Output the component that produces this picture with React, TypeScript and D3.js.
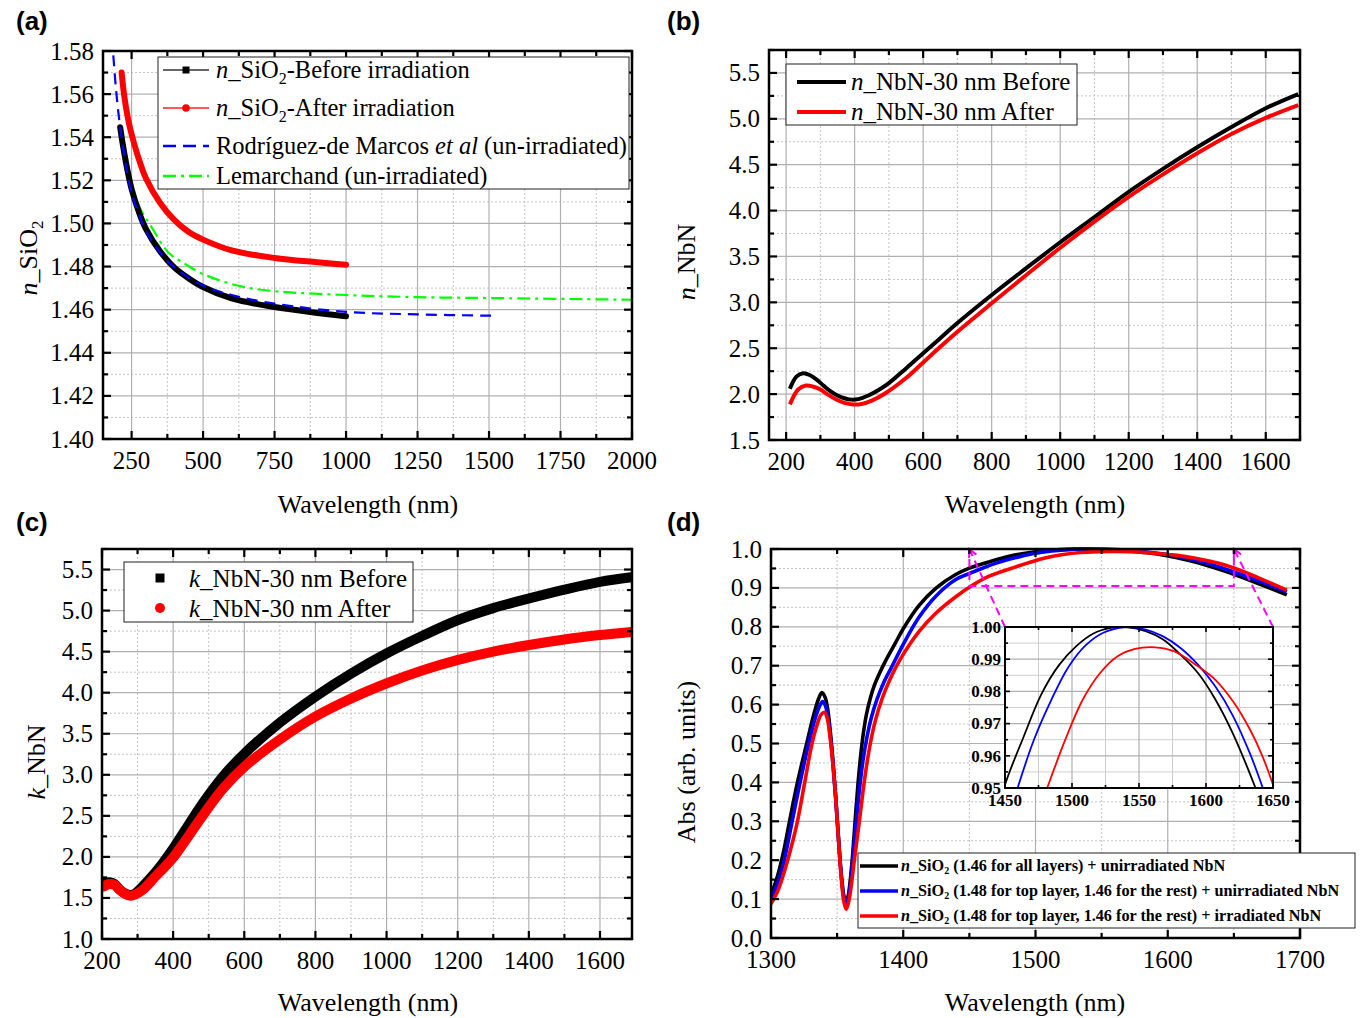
import React from 'react';
import * as d3 from 'd3';

// ---------------- DATA ----------------
// Panel (a): refractive index of SiO2
const aBeforeWl = [210, 220, 235, 250, 275, 300, 350, 400, 450, 500, 600, 750, 900, 1000];
const aBeforeN = [1.5446, 1.536, 1.525, 1.516, 1.5055, 1.4975, 1.487, 1.4795, 1.4745, 1.4705, 1.4652, 1.4612, 1.4585, 1.4569];
const aAfterWl = [215, 225, 240, 260, 280, 300, 350, 400, 450, 500, 600, 750, 900, 1000];
const aAfterN = [1.57, 1.5585, 1.547, 1.5365, 1.528, 1.521, 1.5095, 1.5015, 1.496, 1.4925, 1.4875, 1.484, 1.482, 1.4808];
const aRodWl = [186, 195, 205, 215, 230, 250, 275, 300, 350, 400, 500, 600, 750, 1000, 1250, 1510];
const aRodN = [1.578, 1.563, 1.55, 1.54, 1.527, 1.514, 1.5045, 1.4965, 1.4865, 1.4795, 1.4712, 1.4668, 1.4628, 1.459, 1.4578, 1.4572];
const aLemWl = [245, 252, 280, 319, 379, 440, 500, 620, 740, 1000, 1250, 1500, 2000];
const aLemN = [1.521, 1.517, 1.507, 1.4985, 1.4865, 1.481, 1.4765, 1.4712, 1.4687, 1.4668, 1.4658, 1.4654, 1.4646];

// Panel (b): n of NbN
const bBeforeWl = [211, 230, 250, 270, 290, 310, 330, 350, 370, 390, 410, 440, 470, 500, 550, 600, 650, 700, 800, 900, 1000, 1100, 1200, 1300, 1400, 1500, 1600, 1695];
const bBeforeN = [2.058, 2.19, 2.228, 2.205, 2.155, 2.09, 2.03, 1.985, 1.955, 1.94, 1.945, 1.985, 2.045, 2.12, 2.28, 2.445, 2.61, 2.775, 3.08, 3.37, 3.655, 3.93, 4.205, 4.455, 4.69, 4.91, 5.115, 5.27];
const bAfterWl = [211, 235, 258, 280, 300, 320, 345, 370, 395, 420, 450, 490, 550, 600, 650, 700, 800, 900, 1000, 1100, 1200, 1300, 1400, 1500, 1600, 1695];
const bAfterN = [1.888, 2.05, 2.094, 2.08, 2.05, 2.0, 1.945, 1.905, 1.888, 1.893, 1.93, 2.01, 2.175, 2.345, 2.515, 2.68, 2.99, 3.295, 3.595, 3.88, 4.15, 4.395, 4.625, 4.835, 5.01, 5.15];

// Panel (c): k of NbN
const cBeforeWl = [205, 220, 235, 250, 265, 278, 292, 310, 340, 370, 400, 430, 460, 486, 540, 602, 699, 800, 902, 1001, 1100, 1201, 1300, 1401, 1500, 1600, 1688];
const cBeforeK = [1.68, 1.69, 1.67, 1.6, 1.555, 1.535, 1.55, 1.62, 1.76, 1.92, 2.1, 2.3, 2.5, 2.67, 2.98, 3.265, 3.632, 3.953, 4.237, 4.48, 4.69, 4.885, 5.03, 5.148, 5.255, 5.35, 5.405];
const cAfterWl = [205, 220, 235, 250, 265, 280, 295, 315, 350, 375, 400, 430, 460, 486, 540, 602, 699, 800, 902, 1001, 1100, 1201, 1300, 1401, 1500, 1600, 1688];
const cAfterK = [1.64, 1.67, 1.66, 1.6, 1.55, 1.527, 1.545, 1.6, 1.76, 1.87, 1.99, 2.17, 2.36, 2.52, 2.83, 3.103, 3.427, 3.71, 3.933, 4.115, 4.27, 4.399, 4.5, 4.581, 4.648, 4.702, 4.74];

// Panel (d): absorbance
const dBlackWl = [1300, 1305, 1310, 1314, 1320, 1327, 1332, 1336, 1338.5, 1341, 1343, 1345, 1347, 1349, 1351, 1353, 1355, 1356.7, 1358.5, 1360, 1362, 1364, 1366, 1368, 1370, 1372, 1375, 1378, 1382, 1387, 1394, 1400, 1412, 1425, 1440, 1450, 1464, 1477, 1490, 1503, 1516, 1529, 1540, 1555, 1568, 1581, 1594, 1607, 1620, 1636, 1650, 1670, 1690];
const dBlackA = [0.11, 0.16, 0.23, 0.3, 0.4, 0.5, 0.57, 0.615, 0.631, 0.618, 0.585, 0.525, 0.45, 0.36, 0.26, 0.17, 0.11, 0.088, 0.11, 0.15, 0.225, 0.32, 0.405, 0.475, 0.53, 0.572, 0.615, 0.648, 0.68, 0.715, 0.758, 0.795, 0.855, 0.9, 0.935, 0.951, 0.966, 0.979, 0.988, 0.994, 0.998, 0.9997, 1.0, 0.9987, 0.9961, 0.9914, 0.9857, 0.9775, 0.967, 0.951, 0.935, 0.909, 0.882];
const dBlueWl = [1300, 1305, 1310, 1316, 1322, 1328.5, 1333, 1337, 1339, 1341, 1343, 1345, 1347, 1349, 1351, 1353, 1355, 1356.8, 1358.5, 1360, 1362, 1364.5, 1367, 1369.5, 1372.5, 1376, 1380, 1385, 1391, 1400, 1412, 1425, 1440, 1450, 1459.4, 1471.6, 1484.6, 1497.7, 1510.7, 1523.7, 1539.3, 1555, 1568, 1581, 1594, 1607, 1620, 1633, 1642.4, 1660, 1690];
const dBlueA = [0.1, 0.14, 0.2, 0.3, 0.4, 0.5, 0.56, 0.598, 0.608, 0.598, 0.57, 0.515, 0.44, 0.355, 0.255, 0.165, 0.105, 0.083, 0.105, 0.14, 0.21, 0.3, 0.385, 0.455, 0.515, 0.568, 0.612, 0.655, 0.695, 0.755, 0.825, 0.88, 0.922, 0.937, 0.95, 0.965, 0.9774, 0.9878, 0.9945, 0.9983, 0.9999, 0.9992, 0.9971, 0.9935, 0.9883, 0.9815, 0.9725, 0.9605, 0.95, 0.929, 0.89];
const dRedWl = [1300, 1305, 1310, 1315, 1320, 1325.5, 1331, 1335, 1338, 1340.5, 1342.5, 1344.5, 1347, 1349, 1351, 1353, 1355, 1356.8, 1358.5, 1360.5, 1363, 1366.8, 1369.5, 1372, 1375, 1379, 1384, 1390, 1397.5, 1412, 1425, 1440, 1452, 1465, 1481.5, 1495, 1508, 1521, 1534, 1547, 1562, 1576, 1594, 1607, 1620, 1633, 1642, 1650, 1670, 1690];
const dRedA = [0.088, 0.12, 0.17, 0.23, 0.3, 0.4, 0.5, 0.55, 0.575, 0.58, 0.565, 0.52, 0.44, 0.355, 0.255, 0.16, 0.095, 0.074, 0.09, 0.13, 0.2, 0.3, 0.375, 0.437, 0.498, 0.56, 0.615, 0.665, 0.715, 0.788, 0.836, 0.878, 0.906, 0.93, 0.95, 0.965, 0.9774, 0.9857, 0.9909, 0.9932, 0.9937, 0.9925, 0.9878, 0.9836, 0.977, 0.968, 0.96, 0.951, 0.924, 0.894];

// Tick labels
const aXTicks = [250, 500, 750, 1000, 1250, 1500, 1750, 2000];
const aYTicks = [1.4, 1.42, 1.44, 1.46, 1.48, 1.5, 1.52, 1.54, 1.56, 1.58];
const bXTicks = [200, 400, 600, 800, 1000, 1200, 1400, 1600];
const bYTicks = [1.5, 2.0, 2.5, 3.0, 3.5, 4.0, 4.5, 5.0, 5.5];
const cXTicks = [200, 400, 600, 800, 1000, 1200, 1400, 1600];
const cYTicks = [1.0, 1.5, 2.0, 2.5, 3.0, 3.5, 4.0, 4.5, 5.0, 5.5];
const dXTicks = [1300, 1400, 1500, 1600, 1700];
const dYTicks = [0, 0.1, 0.2, 0.3, 0.4, 0.5, 0.6, 0.7, 0.8, 0.9, 1.0];
const iXTicks = [1450, 1500, 1550, 1600, 1650];
const iYTicks = [0.95, 0.96, 0.97, 0.98, 0.99, 1.0];

// ---------------- HELPERS ----------------
const SERIF = '"Liberation Serif", "Times New Roman", serif';
const SANS = '"Liberation Sans", Arial, sans-serif';
const zip = (a: number[], b: number[]) => a.map((v, i) => [v, b[i]] as [number, number]);
const mids = (t: number[]) => t.slice(0, -1).map((v, i) => (v + t[i + 1]) / 2);
const eps = 1e-9;

type S = d3.ScaleLinear<number, number>;

function Grid({ xs, ys, xt, yt, xm, ym, solidMinor = false }: any) {
  const [x0, x1] = xs.range();
  const [y0, y1] = ys.range();
  const minorProps = solidMinor
    ? { stroke: '#cfcfcf', strokeWidth: 1 }
    : { stroke: '#c4c4c4', strokeWidth: 1, strokeDasharray: '2,2' };
  return (
    <g>
      {xm.map((v: number) => <line key={'xm' + v} x1={xs(v)} x2={xs(v)} y1={y0} y2={y1} {...minorProps} />)}
      {ym.map((v: number) => <line key={'ym' + v} y1={ys(v)} y2={ys(v)} x1={x0} x2={x1} {...minorProps} />)}
      {xt.map((v: number) => <line key={'xt' + v} x1={xs(v)} x2={xs(v)} y1={y0} y2={y1} stroke="#b0b0b0" strokeWidth={1.2} />)}
      {yt.map((v: number) => <line key={'yt' + v} y1={ys(v)} y2={ys(v)} x1={x0} x2={x1} stroke="#b0b0b0" strokeWidth={1.2} />)}
    </g>
  );
}

function Axes({ xs, ys, xt, yt, xm, ym, xf, yf, fs = 25, bold = false, xOff = 30, yGap = 9, maj = 8, mn = 5, fw = 2.5, tw = 2.2 }: any) {
  const [x0, x1] = xs.range();
  const [y0, y1] = ys.range();
  const dom = xs.domain();
  const ydom = ys.domain();
  const inX = (v: number) => v >= dom[0] - eps && v <= dom[1] + eps;
  const inY = (v: number) => v >= ydom[0] - eps && v <= ydom[1] + eps;
  const tk: any[] = [];
  xt.filter(inX).forEach((v: number) => {
    tk.push(<line key={'bx' + v} x1={xs(v)} x2={xs(v)} y1={y0} y2={y0 - maj} stroke="#000" strokeWidth={tw} />);
    tk.push(<line key={'tx' + v} x1={xs(v)} x2={xs(v)} y1={y1} y2={y1 + maj} stroke="#000" strokeWidth={tw} />);
  });
  xm.filter(inX).forEach((v: number) => {
    tk.push(<line key={'bxm' + v} x1={xs(v)} x2={xs(v)} y1={y0} y2={y0 - mn} stroke="#000" strokeWidth={tw} />);
    tk.push(<line key={'txm' + v} x1={xs(v)} x2={xs(v)} y1={y1} y2={y1 + mn} stroke="#000" strokeWidth={tw} />);
  });
  yt.filter(inY).forEach((v: number) => {
    tk.push(<line key={'ly' + v} y1={ys(v)} y2={ys(v)} x1={x0} x2={x0 + maj} stroke="#000" strokeWidth={tw} />);
    tk.push(<line key={'ry' + v} y1={ys(v)} y2={ys(v)} x1={x1} x2={x1 - maj} stroke="#000" strokeWidth={tw} />);
  });
  ym.filter(inY).forEach((v: number) => {
    tk.push(<line key={'lym' + v} y1={ys(v)} y2={ys(v)} x1={x0} x2={x0 + mn} stroke="#000" strokeWidth={tw} />);
    tk.push(<line key={'rym' + v} y1={ys(v)} y2={ys(v)} x1={x1} x2={x1 - mn} stroke="#000" strokeWidth={tw} />);
  });
  return (
    <g>
      {tk}
      <rect x={x0} y={y1} width={x1 - x0} height={y0 - y1} fill="none" stroke="#000" strokeWidth={fw} />
      <g fontFamily={SERIF} fontSize={fs} fontWeight={bold ? 'bold' : 'normal'} fill="#000">
        {xt.map((v: number) => (
          <text key={'lx' + v} x={xs(v)} y={y0 + xOff} textAnchor="middle">{xf(v)}</text>
        ))}
        {yt.map((v: number) => (
          <text key={'lyy' + v} x={x0 - yGap} y={ys(v)} dy="0.34em" textAnchor="end">{yf(v)}</text>
        ))}
      </g>
    </g>
  );
}

const f0 = (v: number) => d3.format('d')(v);
const f1 = (v: number) => v.toFixed(1);
const f2 = (v: number) => v.toFixed(2);

function lineGen(xs: S, ys: S) {
  return d3.line<[number, number]>().x(d => xs(d[0])).y(d => ys(d[1])).curve(d3.curveCatmullRom.alpha(0.5));
}

export default function App() {
  // layout
  const PA = { l: 103, r: 632, t: 51, b: 439 };
  const PB = { l: 769, r: 1300, t: 50, b: 440 };
  const PC = { l: 102, r: 632, t: 549, b: 939 };
  const PD = { l: 771, r: 1300, t: 549, b: 938 };
  const PI = { l: 1005, r: 1273, t: 627, b: 788 };

  const xa = d3.scaleLinear().domain([150, 2000]).range([PA.l, PA.r]);
  const ya = d3.scaleLinear().domain([1.4, 1.58]).range([PA.b, PA.t]);
  const xb = d3.scaleLinear().domain([150, 1700]).range([PB.l, PB.r]);
  const yb = d3.scaleLinear().domain([1.5, 5.75]).range([PB.b, PB.t]);
  const xc = d3.scaleLinear().domain([200, 1690]).range([PC.l, PC.r]);
  const yc = d3.scaleLinear().domain([1.0, 5.75]).range([PC.b, PC.t]);
  const xd = d3.scaleLinear().domain([1300, 1700]).range([PD.l, PD.r]);
  const yd = d3.scaleLinear().domain([0, 1]).range([PD.b, PD.t]);
  const xi = d3.scaleLinear().domain([1450, 1650]).range([PI.l, PI.r]);
  const yi = d3.scaleLinear().domain([0.95, 1.0]).range([PI.b, PI.t]);

  const aXm = mids(aXTicks);
  const aYm = mids(aYTicks);
  const bXm = [...mids(bXTicks), 1700];
  const bYm = [...mids(bYTicks), 5.75];
  const cXm = mids(cXTicks);
  const cYm = [...mids(cYTicks), 5.75];
  const dXm = mids(dXTicks);
  const dYm = mids(dYTicks);
  const iXm = mids(iXTicks);
  const iYm = mids(iYTicks);

  const la = lineGen(xa, ya);
  const lb = lineGen(xb, yb);
  const lc = lineGen(xc, yc);
  const ld = lineGen(xd, yd);
  const li = lineGen(xi, yi);

  const magenta = '#ff00ff';
  const boxL = xd(1450), boxR = xd(1650), boxT = yd(1.0), boxB = yd(0.905);
  const chevron = (sx: number, sy: number, ex: number, ey: number) => {
    const dx = ex - sx, dy = ey - sy;
    const L = Math.hypot(dx, dy);
    const ux = dx / L, uy = dy / L;
    const px = -uy, py = ux;
    const bx = ex - 8 * ux, by = ey - 8 * uy;
    return `${bx + 4 * px},${by + 4 * py} ${ex},${ey} ${bx - 4 * px},${by - 4 * py}`;
  };

  return (
    <svg width={1364} height={1018} style={{ position: 'absolute', left: 0, top: 0, background: '#fff' }}>
      <defs>
        <clipPath id="ca"><rect x={PA.l} y={PA.t} width={PA.r - PA.l} height={PA.b - PA.t} /></clipPath>
        <clipPath id="cb"><rect x={PB.l} y={PB.t} width={PB.r - PB.l} height={PB.b - PB.t} /></clipPath>
        <clipPath id="cc"><rect x={PC.l} y={PC.t} width={PC.r - PC.l} height={PC.b - PC.t} /></clipPath>
        <clipPath id="cd"><rect x={PD.l} y={PD.t - 3} width={PD.r - PD.l} height={PD.b - PD.t + 3} /></clipPath>
        <clipPath id="ci"><rect x={PI.l} y={PI.t - 1} width={PI.r - PI.l} height={PI.b - PI.t + 1} /></clipPath>
      </defs>
      <rect x={0} y={0} width={1364} height={1018} fill="#fff" />

      {/* panel labels */}
      <g fontFamily={SANS} fontWeight="bold" fontSize={26} fill="#000">
        <text x={16} y={30}>(a)</text>
        <text x={667} y={30}>(b)</text>
        <text x={16} y={531}>(c)</text>
        <text x={667} y={531}>(d)</text>
      </g>

      {/* ---------- Panel (a) ---------- */}
      <Grid xs={xa} ys={ya} xt={aXTicks} yt={aYTicks} xm={aXm} ym={aYm} />
      <g clipPath="url(#ca)" fill="none">
        <path d={la(zip(aLemWl, aLemN)) || ''} stroke="#00ff00" strokeWidth={2.2} strokeDasharray="13,5,3,5" />
        <path d={la(zip(aBeforeWl, aBeforeN)) || ''} stroke="#000" strokeWidth={6} strokeLinecap="round" />
        <path d={la(zip(aRodWl, aRodN)) || ''} stroke="#0000ff" strokeWidth={2.2} strokeDasharray="11,7" />
        <path d={la(zip(aAfterWl, aAfterN)) || ''} stroke="#ff0000" strokeWidth={6} strokeLinecap="round" />
      </g>
      <Axes xs={xa} ys={ya} xt={aXTicks} yt={aYTicks} xm={aXm} ym={aYm} xf={f0} yf={f2} />
      {/* legend a */}
      <g>
        <rect x={158} y={57} width={471} height={132} fill="#fff" stroke="#222" strokeWidth={1} />
        <line x1={163} x2={209} y1={70} y2={70} stroke="#333" strokeWidth={1.3} />
        <rect x={182.5} y={66.5} width={7} height={7} fill="#000" />
        <line x1={163} x2={209} y1={108} y2={108} stroke="#ff2020" strokeWidth={1.3} />
        <circle cx={186} cy={108} r={3.8} fill="#ff0000" />
        <line x1={163} x2={209} y1={146} y2={146} stroke="#0000ff" strokeWidth={2.5} strokeDasharray="13,7" />
        <line x1={163} x2={209} y1={176} y2={176} stroke="#00ff00" strokeWidth={2.5} strokeDasharray="13,5,3,5" />
        <g fontFamily={SERIF} fontSize={24.5} fill="#000">
          <text x={216} y={78}><tspan fontStyle="italic">n</tspan>_SiO<tspan fontSize="16" dy="6">2</tspan><tspan dy="-6">-Before irradiation</tspan></text>
          <text x={216} y={116}><tspan fontStyle="italic">n</tspan>_SiO<tspan fontSize="16" dy="6">2</tspan><tspan dy="-6">-After irradiation</tspan></text>
          <text x={216} y={154}>Rodríguez-de Marcos <tspan fontStyle="italic">et al</tspan> (un-irradiated)</text>
          <text x={216} y={184}>Lemarchand (un-irradiated)</text>
        </g>
      </g>
      <g fontFamily={SERIF} fontSize={26} fill="#000">
        <text x={368} y={513} textAnchor="middle">Wavelength (nm)</text>
        <text transform={`translate(37,${258}) rotate(-90)`} textAnchor="middle">
          <tspan fontStyle="italic">n</tspan>_SiO<tspan fontSize="17" dy="6">2</tspan>
        </text>
      </g>

      {/* ---------- Panel (b) ---------- */}
      <Grid xs={xb} ys={yb} xt={bXTicks} yt={bYTicks} xm={bXm} ym={bYm} />
      <g clipPath="url(#cb)" fill="none">
        <path d={lb(zip(bBeforeWl, bBeforeN)) || ''} stroke="#000" strokeWidth={4} />
        <path d={lb(zip(bAfterWl, bAfterN)) || ''} stroke="#ff0000" strokeWidth={4} />
      </g>
      <Axes xs={xb} ys={yb} xt={bXTicks} yt={bYTicks} xm={bXm} ym={bYm} xf={f0} yf={f1} />
      <g>
        <rect x={786} y={64} width={291} height={61} fill="#fff" stroke="#222" strokeWidth={1} />
        <line x1={797} x2={846} y1={82} y2={82} stroke="#000" strokeWidth={4} />
        <line x1={797} x2={846} y1={112} y2={112} stroke="#ff0000" strokeWidth={4} />
        <g fontFamily={SERIF} fontSize={25} fill="#000">
          <text x={851} y={90}><tspan fontStyle="italic">n</tspan>_NbN-30 nm Before</text>
          <text x={851} y={120}><tspan fontStyle="italic">n</tspan>_NbN-30 nm After</text>
        </g>
      </g>
      <g fontFamily={SERIF} fontSize={26} fill="#000">
        <text x={1035} y={513} textAnchor="middle">Wavelength (nm)</text>
        <text transform={`translate(695,${262}) rotate(-90)`} textAnchor="middle">
          <tspan fontStyle="italic">n</tspan>_NbN
        </text>
      </g>

      {/* ---------- Panel (c) ---------- */}
      <Grid xs={xc} ys={yc} xt={cXTicks} yt={cYTicks} xm={cXm} ym={cYm} />
      <g clipPath="url(#cc)" fill="none">
        <path d={lc(zip(cBeforeWl, cBeforeK)) || ''} stroke="#000" strokeWidth={10} strokeLinecap="square" />
        <path d={lc(zip(cAfterWl, cAfterK)) || ''} stroke="#ff0000" strokeWidth={10} strokeLinecap="round" />
      </g>
      <Axes xs={xc} ys={yc} xt={cXTicks} yt={cYTicks} xm={cXm} ym={cYm} xf={f0} yf={f1} />
      <g>
        <rect x={124} y={562} width={289} height={60} fill="#fff" stroke="#222" strokeWidth={1} />
        <rect x={155.5} y={573.5} width={9} height={9} fill="#000" />
        <circle cx={160} cy={608} r={5} fill="#ff0000" />
        <g fontFamily={SERIF} fontSize={25} fill="#000">
          <text x={189} y={587}><tspan fontStyle="italic">k</tspan>_NbN-30 nm Before</text>
          <text x={189} y={617}><tspan fontStyle="italic">k</tspan>_NbN-30 nm After</text>
        </g>
      </g>
      <g fontFamily={SERIF} fontSize={26} fill="#000">
        <text x={368} y={1011} textAnchor="middle">Wavelength (nm)</text>
        <text transform={`translate(45,${762}) rotate(-90)`} textAnchor="middle">
          <tspan fontStyle="italic">k</tspan>_NbN
        </text>
      </g>

      {/* ---------- Panel (d) ---------- */}
      <Grid xs={xd} ys={yd} xt={dXTicks} yt={dYTicks} xm={dXm} ym={dYm} />
      <g clipPath="url(#cd)" fill="none">
        <path d={ld(zip(dBlackWl, dBlackA)) || ''} stroke="#000" strokeWidth={3.6} />
        <path d={ld(zip(dBlueWl, dBlueA)) || ''} stroke="#0000ff" strokeWidth={3.6} />
        <path d={ld(zip(dRedWl, dRedA)) || ''} stroke="#ff0000" strokeWidth={3.6} />
      </g>
      {/* zoom box & connectors */}
      <g fill="none" stroke={magenta} strokeWidth={2} strokeDasharray="8,5">
        <rect x={boxL} y={boxT} width={boxR - boxL} height={boxB - boxT} />
        <line x1={PI.l} y1={PI.t} x2={boxL} y2={boxT} />
        <line x1={PI.r} y1={PI.t} x2={boxR} y2={boxT} />
      </g>
      <g fill="none" stroke={magenta} strokeWidth={2}>
        <polyline points={chevron(PI.l, PI.t, boxL, boxT)} />
        <polyline points={chevron(PI.r, PI.t, boxR, boxT)} />
      </g>
      <Axes xs={xd} ys={yd} xt={dXTicks} yt={dYTicks} xm={dXm} ym={dYm} xf={f0} yf={f1} />

      {/* inset */}
      <rect x={PI.l} y={PI.t} width={PI.r - PI.l} height={PI.b - PI.t} fill="#fff" />
      <Grid xs={xi} ys={yi} xt={iXTicks} yt={iYTicks} xm={iXm} ym={iYm} solidMinor={true} />
      <g clipPath="url(#ci)" fill="none">
        <path d={li(zip(dBlackWl, dBlackA)) || ''} stroke="#000" strokeWidth={1.8} />
        <path d={li(zip(dBlueWl, dBlueA)) || ''} stroke="#0000ff" strokeWidth={1.8} />
        <path d={li(zip(dRedWl, dRedA)) || ''} stroke="#ff0000" strokeWidth={1.8} />
      </g>
      <Axes xs={xi} ys={yi} xt={iXTicks} yt={iYTicks} xm={iXm} ym={iYm} xf={f0} yf={f2} fs={17} bold={true} xOff={18} yGap={4} maj={5} mn={3} fw={2} tw={1.6} />

      {/* legend d */}
      <g>
        <rect x={858} y={853} width={497} height={75} fill="#fff" stroke="#222" strokeWidth={1} />
        <line x1={860} x2={898} y1={866} y2={866} stroke="#000" strokeWidth={3.5} />
        <line x1={860} x2={898} y1={891} y2={891} stroke="#0000ff" strokeWidth={3.5} />
        <line x1={860} x2={898} y1={916} y2={916} stroke="#ff0000" strokeWidth={3.5} />
        <g fontFamily={SERIF} fontSize={16.2} fontWeight="bold" fill="#000">
          <text x={901} y={871}><tspan fontStyle="italic">n</tspan>_SiO<tspan fontSize="10" dy="3">2</tspan><tspan dy="-3"> (1.46 for all layers) + unirradiated NbN</tspan></text>
          <text x={901} y={896}><tspan fontStyle="italic">n</tspan>_SiO<tspan fontSize="10" dy="3">2</tspan><tspan dy="-3"> (1.48 for top layer, 1.46 for the rest) + unirradiated NbN</tspan></text>
          <text x={901} y={921}><tspan fontStyle="italic">n</tspan>_SiO<tspan fontSize="10" dy="3">2</tspan><tspan dy="-3"> (1.48 for top layer, 1.46 for the rest) + irradiated NbN</tspan></text>
        </g>
      </g>
      <g fontFamily={SERIF} fontSize={26} fill="#000">
        <text x={1035} y={1011} textAnchor="middle">Wavelength (nm)</text>
        <text transform={`translate(695,${762}) rotate(-90)`} textAnchor="middle">Abs (arb. units)</text>
      </g>
    </svg>
  );
}
